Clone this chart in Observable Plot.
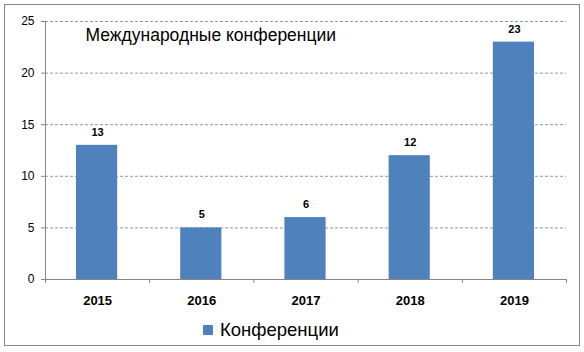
<!DOCTYPE html>
<html>
<head>
<meta charset="utf-8">
<script src="https://cdn.jsdelivr.net/npm/d3@7"></script>
<script src="https://cdn.jsdelivr.net/npm/@observablehq/plot@0.6"></script>
<style>
  html, body { margin: 0; padding: 0; background: #fff; }
  #wrap { position: relative; width: 584px; height: 352px; font-family: "Liberation Sans", Arial, sans-serif; }
  #border { position: absolute; left: 4px; top: 4px; width: 576px; height: 342px; box-sizing: border-box; border: 1px solid #868686; pointer-events: none; }
  #legend { position: absolute; left: 203px; top: 318px; height: 24px; display: flex; align-items: center; gap: 7px; font-size: 18.5px; color: #000; }
  #legend .sw { width: 10px; height: 10px; background: #4f81bd; }
  svg { display: block; }
</style>
</head>
<body>
<div id="wrap">
  <div id="chart"></div>
  <div id="border"></div>
  <div id="legend"><span class="sw"></span><span id="legendText"></span></div>
</div>
<script>
const title = "Международные конференции";
const seriesName = "Конференции";
const years = ["2015", "2016", "2017", "2018", "2019"];
const values = [13, 5, 6, 12, 23];
const yTicks = [0, 5, 10, 15, 20, 25];

const data = years.map((year, i) => ({year, i, v: values[i]}));
const font = "Liberation Sans, Arial, sans-serif";

const chart = Plot.plot({
  width: 584,
  height: 352,
  marginLeft: 45,
  marginRight: 18,
  marginTop: 21,
  marginBottom: 73,
  style: {fontFamily: font, background: "transparent"},
  x: {type: "linear", domain: [0, years.length], axis: null},
  y: {domain: [0, 25], axis: null},
  marks: [
    Plot.gridY(yTicks.filter(d => d > 0), {stroke: "#8c9aa8", strokeOpacity: 1, strokeDasharray: "3,2"}),
    Plot.rectY(data, {x1: d => d.i, x2: d => d.i + 1, y: "v", fill: "#4f81bd", insetLeft: 31, insetRight: 32}),
    Plot.ruleY([0], {stroke: "#868686"}),
    Plot.ruleX([0], {stroke: "#868686"}),
    Plot.axisY({ticks: yTicks, tickSize: 4, tickPadding: 7, fontSize: 12, stroke: "#868686", label: null, tickFormat: d => d}),
    Plot.axisX({ticks: d3.range(0, years.length + 1), tickSize: 4, stroke: "#868686", tickFormat: () => "", label: null}),
    Plot.text(data, {x: d => d.i + 0.5, y: 0, text: "year", dy: 21, fontSize: 13, fontWeight: "bold", fill: "#000"}),
    Plot.text(data, {x: d => d.i + 0.5, y: "v", text: d => String(d.v), dy: -13, fontSize: 11, fontWeight: "bold", fill: "#000"}),
    Plot.text([title], {frameAnchor: "top-left", dx: 40, dy: 7, fontSize: 17.5, fill: "#000", textAnchor: "start"})
  ]
});
document.getElementById("chart").appendChild(chart);
document.getElementById("legendText").textContent = seriesName;
</script>
</body>
</html>
